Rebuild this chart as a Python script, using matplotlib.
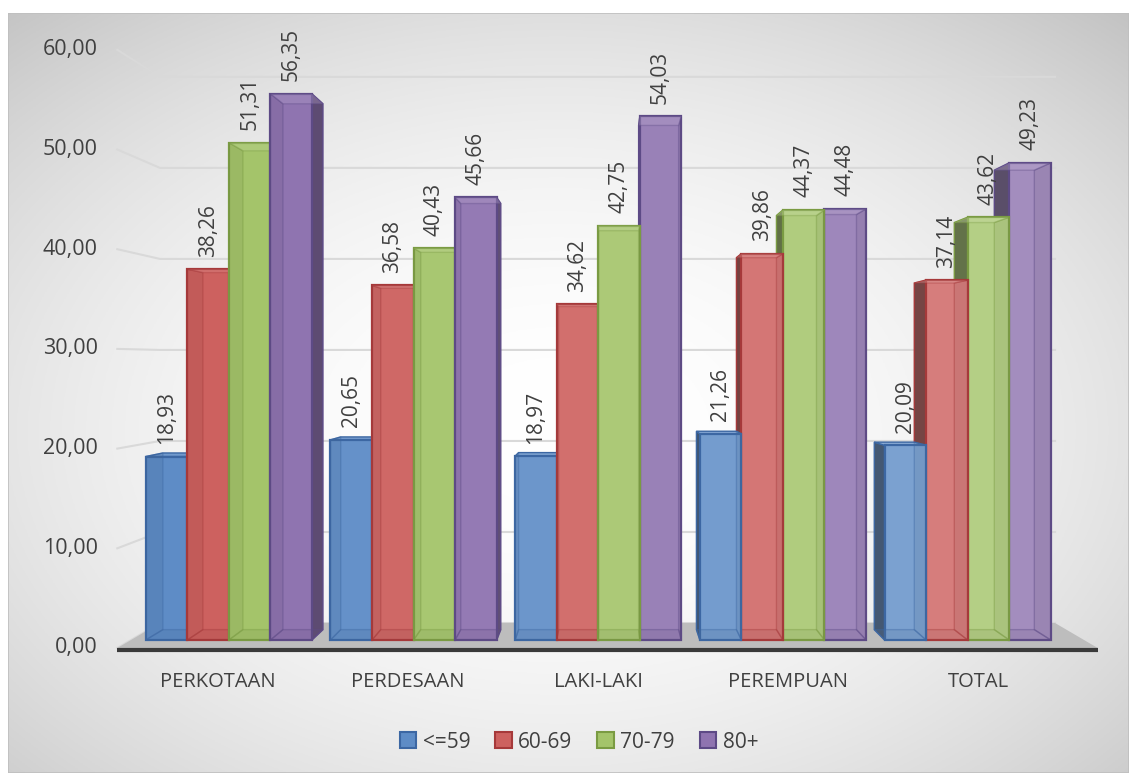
import numpy as np
import matplotlib.pyplot as plt
from matplotlib.patches import Polygon, Rectangle
from matplotlib.colors import to_rgb

plt.rcParams['font.family'] = ['Open Sans', 'DejaVu Sans']

# Data
categories = ['PERKOTAAN', 'PERDESAAN', 'LAKI-LAKI', 'PEREMPUAN', 'TOTAL']
series_names = ['<=59', '60-69', '70-79', '80+']
usia_59 = [18.93, 20.65, 18.97, 21.26, 20.09]
usia_60_69 = [38.26, 36.58, 34.62, 39.86, 37.14]
usia_70_79 = [51.31, 40.43, 42.75, 44.37, 43.62]
usia_80 = [56.35, 45.66, 54.03, 44.48, 49.23]
series_values = [usia_59, usia_60_69, usia_70_79, usia_80]
y_ticks = [0, 10, 20, 30, 40, 50, 60]

face_colors = ['#5E8CC6', '#CD615F', '#A4C46A', '#8F74B0']
edge_colors = ['#3C67A3', '#A6393A', '#7A9B42', '#5D4A86']
text_color = '#404040'

# perspective settings (vanishing point and depth scales)
VX, VY = 2.05, 28.8
S_FACE, S_BACK, S_WALL = 0.972, 0.936, 0.913
WALL_L, WALL_R = -0.53, 4.63
GROUP_W = 0.9
BAR_W = GROUP_W / 4


def proj(x, y, s):
    return (VX + s * (x - VX), VY + s * (y - VY))


def mix(c, other, t):
    c = np.array(to_rgb(c))
    o = np.array(to_rgb(other))
    return tuple(c + (o - c) * t)


W, H = 1129, 773
fig = plt.figure(figsize=(W / 100, H / 100), dpi=100)

# chart area background: soft radial gradient with thin border
bg = fig.add_axes([8 / W, 0, 1 - 8 / W, 1 - 13 / H])
gx, gy = np.meshgrid(np.linspace(-1, 1, 400), np.linspace(-1, 1, 300))
r2 = (gx + 0.02) ** 2 + (gy + 0.1) ** 2
shade = np.clip(1 - 0.105 * r2, 0, 1)
bg.imshow(np.dstack([shade] * 3), extent=(0, 1, 0, 1), aspect='auto', origin='lower')
bg.add_patch(Rectangle((0, 0), 1, 1, transform=bg.transAxes, fill=False,
                       edgecolor='#BFBFBF', lw=1.2))
bg.set_axis_off()

ax = fig.add_axes([0, 0, 1, 1])
ax.set_xlim(-218 / 190, (W - 218) / 190)
ax.set_ylim((648 - H) / 9.97, 648 / 9.97)
ax.patch.set_visible(False)
ax.set_axis_off()

# gridlines on side wall and back wall
for v in y_ticks:
    p0 = proj(WALL_L, v, 1.0)
    p1 = proj(WALL_L, v, S_WALL)
    p2 = proj(WALL_R, v, S_WALL)
    ax.plot([p0[0], p1[0], p2[0]], [p0[1], p1[1], p2[1]], color='#D9D9D9', lw=1.5, zorder=1)
    ax.annotate(f'{v:.2f}'.replace('.', ','), xy=(WALL_L, v), xytext=(-14, 0),
                textcoords='offset points', ha='right', va='center',
                fontsize=15.5, color=text_color)

# floor
floor = [proj(WALL_L, 0, 1.0), proj(WALL_R, 0, 1.0), proj(WALL_R, 0, S_WALL), proj(WALL_L, 0, S_WALL)]
ax.add_patch(Polygon(floor, closed=True, facecolor='#BDBDBD', edgecolor='none', zorder=2))
ax.plot([WALL_L, WALL_R], [-0.25, -0.25], color='#3A3A3A', lw=3, zorder=3, solid_capstyle='butt')

# bars, drawn from the outside towards the vanishing point
bars = []
for j, vals in enumerate(series_values):
    for i, h in enumerate(vals):
        xl = i - GROUP_W / 2 + j * BAR_W
        bars.append((abs(xl + BAR_W / 2 - VX), i, j, xl, xl + BAR_W, h))
bars.sort(key=lambda b: -b[0])

z = 10
for _, i, j, xl, xr, h in bars:
    light = 0.18 * i / 4
    fc = mix(face_colors[j], 'white', light)
    ec = edge_colors[j]
    side_c = mix(fc, 'black', 0.45 if xl > VX else 0.35)
    top_c = mix(fc, 'white', 0.12)

    F = [proj(xl, 0, S_FACE), proj(xr, 0, S_FACE), proj(xr, h, S_FACE), proj(xl, h, S_FACE)]
    B = [proj(xl, 0, S_BACK), proj(xr, 0, S_BACK), proj(xr, h, S_BACK), proj(xl, h, S_BACK)]
    right = [F[1], B[1], B[2], F[2]]
    left = [F[0], B[0], B[3], F[3]]
    top = [F[3], F[2], B[2], B[3]]
    bottom = [F[0], F[1], B[1], B[0]]

    hidden = [bottom]
    if xr < VX:
        ax.add_patch(Polygon(right, facecolor=side_c, edgecolor=ec, lw=1, zorder=z))
        hidden.append(left)
    elif xl > VX:
        ax.add_patch(Polygon(left, facecolor=side_c, edgecolor=ec, lw=1, zorder=z))
        hidden.append(right)
    else:
        hidden += [left, right]
    hidden_top = None
    if h < VY:
        ax.add_patch(Polygon(top, facecolor=top_c, edgecolor=ec, lw=1, zorder=z))
    else:
        hidden_top = top

    ax.add_patch(Polygon(F, facecolor=fc, edgecolor=ec, lw=1.6, zorder=z + 1))
    # faces behind the front, seen through the semi transparent bar
    for poly in hidden:
        ax.add_patch(Polygon(poly, facecolor=mix(fc, 'black', 0.3), alpha=0.18,
                             edgecolor='none', zorder=z + 2))
        ax.add_patch(Polygon(poly, facecolor='none', edgecolor=ec, alpha=0.4,
                             lw=1, zorder=z + 2))
    if hidden_top is not None:
        ax.add_patch(Polygon(hidden_top, facecolor=mix(fc, 'white', 0.3), alpha=0.35,
                             edgecolor=ec, lw=1, zorder=z + 2))
    z += 3

# value labels
for j, vals in enumerate(series_values):
    for i, h in enumerate(vals):
        xc = i - GROUP_W / 2 + (j + 0.5) * BAR_W
        px, py = proj(xc, h, S_FACE)
        ax.annotate(f'{h:.2f}'.replace('.', ','), xy=(px, py), xytext=(0, 9),
                    textcoords='offset points', rotation=90, ha='center', va='bottom',
                    fontsize=15, color=text_color, zorder=200)

# category labels
for i, cat in enumerate(categories):
    ax.annotate(cat, xy=(i, 0), xytext=(0, -17), textcoords='offset points',
                ha='center', va='top', fontsize=14.5, color=text_color)

# legend
handles = [Rectangle((0, 0), 1, 1, facecolor=face_colors[j], edgecolor=edge_colors[j], lw=1.5)
           for j in range(4)]
fig.legend(handles, series_names, loc='center', bbox_to_anchor=(579 / W, 1 - 742 / H),
           ncol=4, frameon=False, fontsize=15, handlelength=0.8, handleheight=0.8,
           handletextpad=0.3, columnspacing=1.2, labelcolor=text_color)

fig.savefig('out.png', dpi=100)
